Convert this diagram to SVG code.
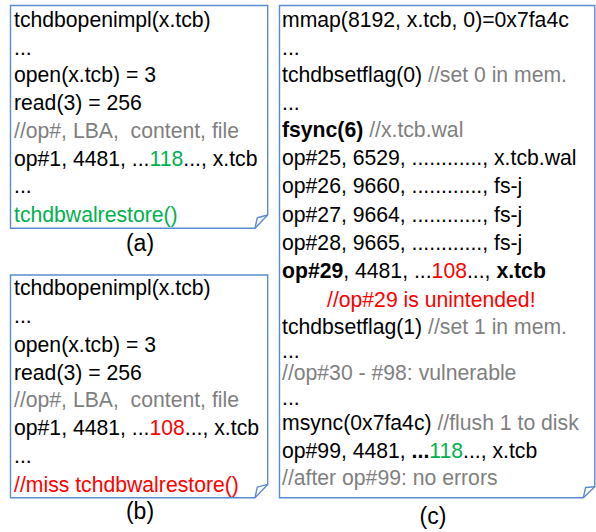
<svg xmlns="http://www.w3.org/2000/svg" width="596" height="532" viewBox="0 0 596 532">
<style>
text{font-family:"Liberation Sans",Arial,sans-serif;font-size:21.2px;fill:#000;white-space:pre}
.g{fill:#7f7f7f}
.r{fill:#ff0000}
.gr{fill:#00b050}
.b{font-weight:bold}
.box{fill:#fff;stroke:#5a8ad0;stroke-width:1.4}
.fold{fill:none;stroke:#5a8ad0;stroke-width:1.4;stroke-linejoin:round}
.lbl{text-anchor:middle;font-size:23px}
</style>
<rect width="596" height="532" fill="#fff"/>
<g id="box-a">
<path class="box" d="M10.5,5.5 H267.7 V215 L255,228.3 H10.5 Z"/>
<path class="fold" d="M255,228.3 L257.3,217.7 L267.7,215"/>
<text x="14" y="27">tchdbopenimpl(x.tcb)</text>
<text x="14" y="54.5">...</text>
<text x="14" y="82">open(x.tcb) = 3</text>
<text x="14" y="110">read(3) = 256</text>
<text x="14" y="137.5" class="g">//op#, LBA,  content, file</text>
<text x="14" y="165.5">op#1, 4481, ...<tspan class="gr">118</tspan>..., x.tcb</text>
<text x="14" y="193">...</text>
<text x="14" y="221.5" class="gr">tchdbwalrestore()</text>
</g>
<g id="box-b">
<path class="box" d="M10.5,275 H267.7 V484.4 L255,497.7 H10.5 Z"/>
<path class="fold" d="M255,497.7 L257.3,487.1 L267.7,484.4"/>
<text x="14" y="295">tchdbopenimpl(x.tcb)</text>
<text x="14" y="323">...</text>
<text x="14" y="351.5">open(x.tcb) = 3</text>
<text x="14" y="379.5">read(3) = 256</text>
<text x="14" y="407" class="g">//op#, LBA,  content, file</text>
<text x="14" y="435">op#1, 4481, ...<tspan class="r">108</tspan>..., x.tcb</text>
<text x="14" y="463">...</text>
<text x="14" y="491.5" class="r">//miss tchdbwalrestore()</text>
</g>
<g id="box-c">
<path class="box" d="M279.5,5.5 H594.8 V486.7 L583.3,497.7 H279.5 Z"/>
<path class="fold" d="M583.3,497.7 L585.6,487.5 L594.8,486.7"/>
<text x="282" y="27">mmap(8192, x.tcb, 0)=0x7fa4c</text>
<text x="282" y="55">...</text>
<text x="282" y="82">tchdbsetflag(0) <tspan class="g">//set 0 in mem.</tspan></text>
<text x="282" y="110">...</text>
<text x="282" y="137"><tspan class="b">fsync(6)</tspan> <tspan class="g">//x.tcb.wal</tspan></text>
<text x="282" y="165">op#25, 6529, ............, x.tcb.wal</text>
<text x="282" y="193">op#26, 9660, ............, fs-j</text>
<text x="282" y="221.5">op#27, 9664, ............, fs-j</text>
<text x="282" y="249.5">op#28, 9665, ............, fs-j</text>
<text x="282" y="278"><tspan class="b">op#29</tspan>, 4481, ...<tspan class="r">108</tspan>..., <tspan class="b">x.tcb</tspan></text>
<text x="327" y="306.5" class="r">//op#29 is unintended!</text>
<text x="282" y="334">tchdbsetflag(1) <tspan class="g">//set 1 in mem.</tspan></text>
<text x="282" y="358">...</text>
<text x="282" y="380" class="g">//op#30 - #98: vulnerable</text>
<text x="282" y="405">...</text>
<text x="282" y="430">msync(0x7fa4c) <tspan class="g">//flush 1 to disk</tspan></text>
<text x="282" y="458">op#99, 4481, <tspan class="b">...</tspan><tspan class="gr">118</tspan>..., x.tcb</text>
<text x="282" y="485" class="g">//after op#99: no errors</text>
</g>
<g id="labels">
<text x="140" y="251" class="lbl">(a)</text>
<text x="140" y="519" class="lbl">(b)</text>
<text x="433" y="524" class="lbl">(c)</text>
</g>
</svg>
